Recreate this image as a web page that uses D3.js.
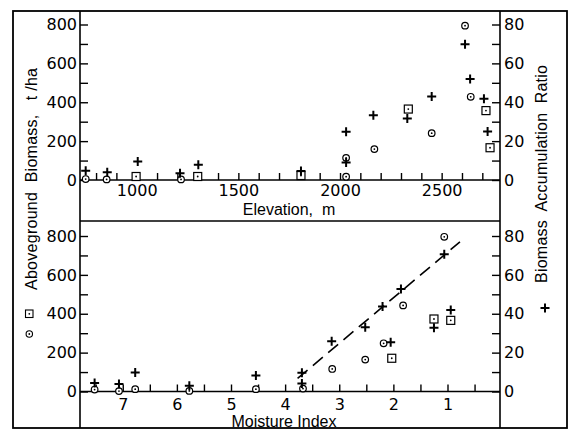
<!DOCTYPE html>
<html>
<head>
<meta charset="utf-8">
<script src="https://cdn.jsdelivr.net/npm/d3@7"></script>
<style>
  body { margin: 0; background: #fff; }
  svg { display: block; }
  .axis text { font-family: 'DejaVu Sans', sans-serif; font-size: 16px; fill: #000; }
  .axis line { stroke: #000; stroke-width: 1.4; }
  .title { font-family: 'Liberation Sans', Arial, sans-serif; font-size: 16px; fill: #000; }
</style>
</head>
<body>
<svg id="chart"></svg>
<script>
// top panel: elevation (m)
const elevCircleX = [749, 852, 1218, 2030, 2030, 2169, 2451, 2615, 2643]
const elevCircleY = [5, 3, 3, 17, 114, 159, 241, 794, 428]
const elevSquareX = [997, 1300, 1808, 2336, 2718, 2738]
const elevSquareY = [18, 18, 23, 365, 357, 166]
const elevPlusX = [749, 855, 1005, 1213, 1303, 1808, 2030, 2030, 2164, 2331, 2451, 2615, 2640, 2708, 2726]
const elevPlusY = [4.7, 4.0, 9.5, 3.5, 7.8, 4.6, 24.8, 9, 33.3, 31.7, 42.9, 69.9, 52, 41.8, 25]

// bottom panel: moisture index
const miCircleX = [7.52, 7.07, 6.77, 5.77, 4.54, 3.67, 3.13, 2.52, 2.18, 1.82, 1.06]
const miCircleY = [10, 2, 12, 3, 12, 15, 116, 164, 248, 443, 796]
const miSquareX = [2.03, 1.25, 0.94]
const miSquareY = [171, 373, 366]
const miPlusX = [7.52, 7.07, 6.77, 5.77, 4.54, 3.69, 3.69, 3.14, 2.52, 2.20, 2.05, 1.86, 1.25, 0.94, 1.06]
const miPlusY = [4.4, 3.9, 9.8, 3, 8.2, 9.6, 4.1, 25.8, 33, 43.7, 25.3, 52.7, 32.8, 41.9, 70.6]
const fitX = [3.77, 0.77]
const fitY = [6.7, 77]

// ticks
const elevTicks = d3.range(800, 2701, 100)
const elevLabels = [1000, 1500, 2000, 2500]
const miTicks = d3.range(7.5, 0.4, -0.5)
const miLabels = [7, 6, 5, 4, 3, 2, 1]
const biomassTicks = d3.range(0, 801, 100)
const biomassLabels = [0, 200, 400, 600, 800]
const ratioTicks = d3.range(0, 81, 10)
const ratioLabels = [0, 20, 40, 60, 80]

const W = 570, H = 432
const plotLeft = 80, plotRight = 500, plotTop = 11, plotBottom = 428
const divider = 221

const svg = d3.select('#chart').attr('width', W).attr('height', H)

const xElev = d3.scaleLinear().domain([721, 2787]).range([plotLeft, plotRight])
const xMI = d3.scaleLinear().domain([7.79, 0.03]).range([plotLeft, plotRight])
const yTopB = d3.scaleLinear().domain([0, 800]).range([180, 24.5])
const yTopR = d3.scaleLinear().domain([0, 80]).range([180, 24.5])
const yBotB = d3.scaleLinear().domain([0, 800]).range([391.5, 236])
const yBotR = d3.scaleLinear().domain([0, 80]).range([391.5, 236])

function zip(xs, ys) { return xs.map((x, i) => [x, ys[i]]) }

function drawAxes(x, xTicks, xLabels, yB, yR, pad) {
	const fmt = list => d => list.includes(d) ? String(d) : ''
	svg.append('g').attr('class', 'axis')
		.attr('transform', `translate(0,${yB(0)})`)
		.call(d3.axisBottom(x).tickValues(xTicks).tickFormat(fmt(xLabels)).tickSize(-7).tickPadding(pad).tickSizeOuter(0))
		.call(g => g.select('.domain').remove())
	svg.append('g').attr('class', 'axis')
		.attr('transform', `translate(${plotLeft},0)`)
		.call(d3.axisLeft(yB).tickValues(biomassTicks).tickFormat(fmt(biomassLabels)).tickSize(-8).tickPadding(3))
		.call(g => g.select('.domain').remove())
	svg.append('g').attr('class', 'axis')
		.attr('transform', `translate(${plotRight},0)`)
		.call(d3.axisRight(yR).tickValues(ratioTicks).tickFormat(fmt(ratioLabels)).tickSize(-8).tickPadding(4))
		.call(g => g.select('.domain').remove())
	svg.append('line')
		.attr('x1', plotLeft).attr('x2', plotRight)
		.attr('y1', yB(0)).attr('y2', yB(0))
		.attr('stroke', '#000').attr('stroke-width', 1.6)
}

function drawMarks(x, yB, yR, circles, squares, pluses) {
	const g = svg.append('g')
	g.selectAll('circle.o').data(circles).join('circle')
		.attr('class', 'o')
		.attr('cx', d => x(d[0])).attr('cy', d => yB(d[1])).attr('r', 3.3)
		.attr('fill', '#fff').attr('stroke', '#000').attr('stroke-width', 1.2)
	g.selectAll('rect.s').data(squares).join('rect')
		.attr('class', 's')
		.attr('x', d => x(d[0]) - 4).attr('y', d => yB(d[1]) - 4)
		.attr('width', 8).attr('height', 8)
		.attr('fill', '#fff').attr('stroke', '#000').attr('stroke-width', 1.2)
	g.selectAll('circle.dot').data(circles.concat(squares)).join('circle')
		.attr('class', 'dot')
		.attr('cx', d => x(d[0])).attr('cy', d => yB(d[1])).attr('r', 0.9)
		.attr('fill', '#000')
	g.selectAll('path.p').data(pluses).join('path')
		.attr('class', 'p')
		.attr('d', d => {
			const cx = x(d[0]), cy = yR(d[1])
			return `M${cx - 4.5},${cy}H${cx + 4.5}M${cx},${cy - 4.5}V${cy + 4.5}`
		})
		.attr('stroke', '#000').attr('stroke-width', 2).attr('fill', 'none')
}

// top panel
drawAxes(xElev, elevTicks, elevLabels, yTopB, yTopR, 5)
drawMarks(xElev, yTopB, yTopR, zip(elevCircleX, elevCircleY), zip(elevSquareX, elevSquareY), zip(elevPlusX, elevPlusY))

// bottom panel
drawAxes(xMI, miTicks, miLabels, yBotB, yBotR, 7)
drawMarks(xMI, yBotB, yBotR, zip(miCircleX, miCircleY), zip(miSquareX, miSquareY), zip(miPlusX, miPlusY))

// dashed fit line
svg.append('path')
	.datum(zip(fitX, fitY))
	.attr('d', d3.line().x(d => xMI(d[0])).y(d => yBotR(d[1])))
	.attr('stroke', '#000').attr('stroke-width', 1.6)
	.attr('stroke-dasharray', '13,7').attr('fill', 'none')

// frame and panel lines
svg.append('rect')
	.attr('x', 13).attr('y', plotTop).attr('width', 567 - 13).attr('height', plotBottom - plotTop)
	.attr('fill', 'none').attr('stroke', '#000').attr('stroke-width', 1.8)
svg.append('line').attr('x1', plotLeft).attr('x2', plotLeft).attr('y1', plotTop).attr('y2', plotBottom)
	.attr('stroke', '#000').attr('stroke-width', 1.6)
svg.append('line').attr('x1', plotRight).attr('x2', plotRight).attr('y1', plotTop).attr('y2', plotBottom)
	.attr('stroke', '#000').attr('stroke-width', 1.6)
svg.append('line').attr('x1', plotLeft).attr('x2', plotRight).attr('y1', divider).attr('y2', divider)
	.attr('stroke', '#000').attr('stroke-width', 1.6)

// axis titles
svg.append('text').attr('class', 'title')
	.attr('x', 289).attr('y', 215).attr('text-anchor', 'middle')
	.text('Elevation,\u00A0 m')
svg.append('text').attr('class', 'title')
	.attr('x', 284).attr('y', 427).attr('text-anchor', 'middle')
	.text('Moisture Index')

svg.append('text').attr('class', 'title')
	.attr('transform', 'translate(37,179) rotate(-90)')
	.attr('text-anchor', 'middle')
	.attr('textLength', 222).attr('lengthAdjust', 'spacing')
	.text('Aboveground\u00A0 Biomass,\u00A0 \u00A0t /ha')
svg.append('text').attr('class', 'title')
	.attr('transform', 'translate(547,174) rotate(-90)')
	.attr('text-anchor', 'middle')
	.attr('textLength', 218).attr('lengthAdjust', 'spacing')
	.text('Biomass\u00A0 Accumulation\u00A0 Ratio')

// legend symbols next to titles
svg.append('rect').attr('x', 25.5).attr('y', 310).attr('width', 7.5).attr('height', 7.5)
	.attr('fill', '#fff').attr('stroke', '#000').attr('stroke-width', 1.1)
svg.append('circle').attr('cx', 29.3).attr('cy', 313.8).attr('r', 0.9).attr('fill', '#000')
svg.append('circle').attr('cx', 29.3).attr('cy', 334).attr('r', 3.2)
	.attr('fill', '#fff').attr('stroke', '#000').attr('stroke-width', 1.1)
svg.append('circle').attr('cx', 29.3).attr('cy', 334).attr('r', 0.9).attr('fill', '#000')
svg.append('path').attr('d', 'M540.5,308H549.5M545,303.5V312.5')
	.attr('stroke', '#000').attr('stroke-width', 2)
</script>
</body>
</html>
